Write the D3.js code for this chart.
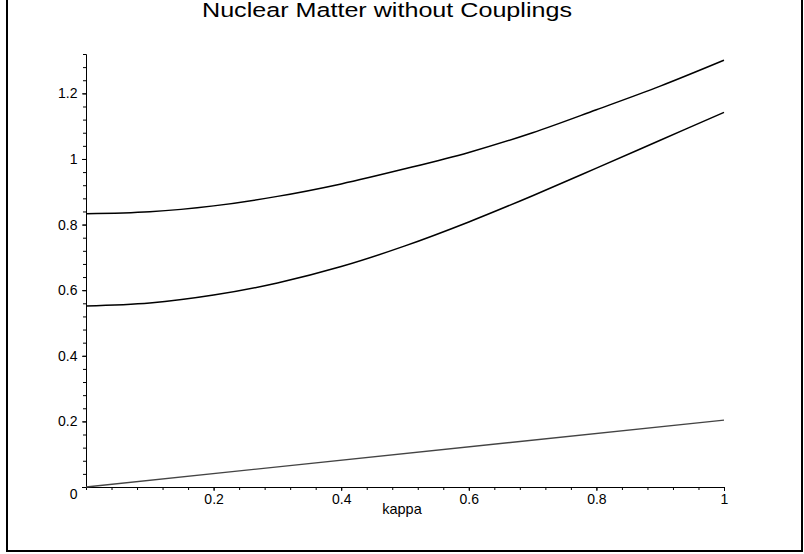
<!DOCTYPE html>
<html>
<head>
<meta charset="utf-8">
<script src="https://cdn.jsdelivr.net/npm/d3@7"></script>
<style>
  body { margin: 0; background: #fff; }
  text { font-family: "Liberation Sans", Arial, sans-serif; fill: #000; }
</style>
</head>
<body>
<script>
var kappa = [0, 0.1, 0.2, 0.3, 0.4, 0.5, 0.6, 0.7, 0.8, 0.9, 1];
var upper = [0.833, 0.839, 0.857, 0.886, 0.924, 0.970, 1.020, 1.080, 1.150, 1.222, 1.301];
var middle = [0.552, 0.561, 0.585, 0.622, 0.672, 0.735, 0.808, 0.888, 0.972, 1.057, 1.142];
var lowerKappa = [0, 1];
var lower = [0, 0.204];

var xMajor = [0.2, 0.4, 0.6, 0.8, 1];
var yMajor = [0, 0.2, 0.4, 0.6, 0.8, 1, 1.2];

var w = 804, h = 554;

var svg = d3.select("body").append("svg")
  .attr("width", w)
  .attr("height", h);

// frame (top edge runs off the picture)
svg.append("rect")
  .attr("x", 7).attr("y", -10)
  .attr("width", 795).attr("height", 561)
  .attr("fill", "none")
  .attr("stroke", "#000")
  .attr("stroke-width", 2);

var xScale = d3.scaleLinear().domain([0, 1]).range([86, 724]);
var yScale = d3.scaleLinear().domain([0, 1.32]).range([487, 54]);

svg.append("text")
  .attr("x", 202)
  .attr("y", 17)
  .attr("font-size", 20.5)
  .attr("textLength", 370)
  .attr("lengthAdjust", "spacingAndGlyphs")
  .text("Nuclear Matter without Couplings");

// minor ticks
svg.append("g")
  .attr("transform", "translate(0,487)")
  .call(d3.axisBottom(xScale).tickValues(d3.range(0, 25).map(function(i) { return i * 0.04; }))
    .tickSize(3).tickSizeOuter(0).tickFormat(""));
svg.append("g")
  .attr("transform", "translate(86,0)")
  .call(d3.axisLeft(yScale).tickValues(d3.range(0, 34).map(function(i) { return i * 0.04; }))
    .tickSize(3).tickSizeOuter(0).tickFormat(""));

// major ticks + labels
var fmt = d3.format("~g");
var xAxis = svg.append("g")
  .attr("transform", "translate(0,487)")
  .call(d3.axisBottom(xScale).tickValues(xMajor).tickSize(4).tickSizeOuter(0)
    .tickPadding(3.5).tickFormat(fmt));
var yAxis = svg.append("g")
  .attr("transform", "translate(86,0)")
  .call(d3.axisLeft(yScale).tickValues(yMajor).tickSize(4).tickSizeOuter(0)
    .tickPadding(4.5).tickFormat(fmt));

svg.selectAll(".tick text")
  .attr("font-size", 14)
  .attr("font-family", "Liberation Sans, Arial, sans-serif")
  .attr("fill", "#000");
svg.selectAll(".domain, .tick line").attr("stroke", "#000");

// zero label sits a bit below the axis
yAxis.selectAll(".tick text")
  .filter(function(d) { return d === 0; })
  .attr("y", 7);

svg.append("text")
  .attr("x", 402)
  .attr("y", 514)
  .attr("text-anchor", "middle")
  .attr("font-size", 14.5)
  .text("kappa");

var line = d3.line()
  .x(function(d) { return xScale(d[0]); })
  .y(function(d) { return yScale(d[1]); })
  .curve(d3.curveMonotoneX);

var series = [
  {pts: d3.zip(kappa, upper), color: "#000", width: 1.5},
  {pts: d3.zip(kappa, middle), color: "#000", width: 1.5},
  {pts: d3.zip(lowerKappa, lower), color: "#444", width: 1.3}
];

svg.selectAll(".curve")
  .data(series)
  .enter().append("path")
  .attr("class", "curve")
  .attr("d", function(d) { return line(d.pts); })
  .attr("fill", "none")
  .attr("stroke", function(d) { return d.color; })
  .attr("stroke-width", function(d) { return d.width; });
</script>
</body>
</html>
